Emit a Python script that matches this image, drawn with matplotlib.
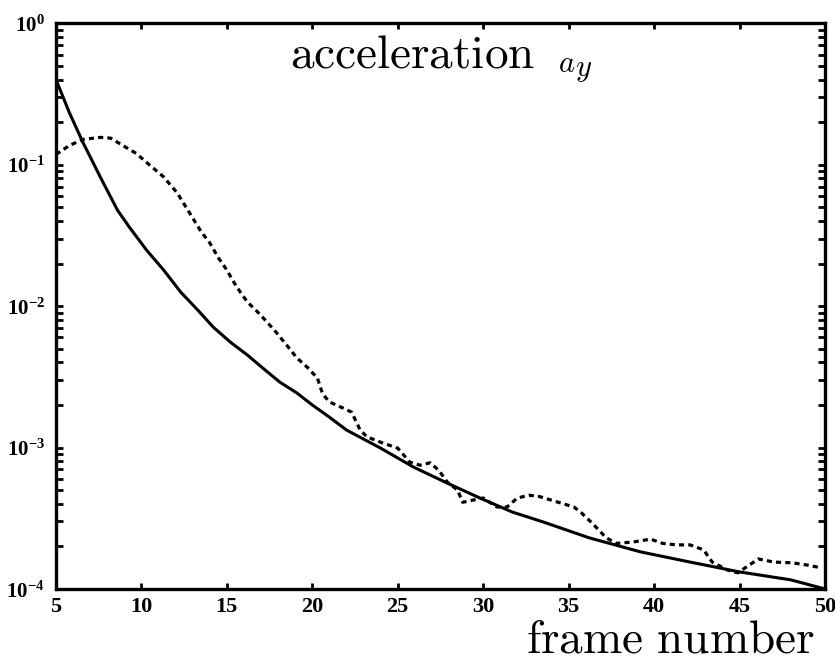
import matplotlib
matplotlib.use("Agg")
import matplotlib.pyplot as plt
from matplotlib.ticker import FixedLocator, LogLocator, NullFormatter

plt.rcParams['mathtext.fontset'] = 'custom'
plt.rcParams['mathtext.rm'] = 'Liberation Serif:bold'
plt.rcParams['mathtext.bf'] = 'Liberation Serif:bold'
plt.rcParams['mathtext.it'] = 'Liberation Serif:bold:italic'

# ---- data ----
solid_frame = [5.0, 5.8, 6.6, 7.6, 8.6, 9.3, 10.3, 11.3, 12.3, 13.3, 14.2, 15.2,
               16.2, 17.1, 18.1, 19.1, 20.0, 21.0, 22.0, 24.0, 25.9, 27.9, 29.8,
               31.7, 33.5, 36.2, 39.2, 42.1, 45.0, 48.0, 50.0]
solid_value = [0.40, 0.231, 0.142, 0.0816, 0.0477, 0.0361, 0.0249, 0.0180, 0.01256,
               0.00937, 0.00711, 0.00557, 0.00451, 0.00365, 0.0029, 0.00243, 0.0020,
               0.00164, 0.00133, 0.00099, 0.00073, 0.00056, 0.00044, 0.00035,
               0.000298, 0.00023, 0.000183, 0.000155, 0.000132, 0.000116, 0.0001]

dash_frame = [5.0, 5.8, 6.6, 7.6, 8.2, 8.9, 9.7, 10.5, 11.3, 12.1, 12.8, 13.5, 14.0,
              14.5, 15.0, 15.4, 15.8, 16.2, 16.8, 17.4, 17.9, 18.5, 19.1, 19.7, 20.3,
              20.6, 21.0, 21.8, 22.3, 22.8, 23.2, 24.0, 25.0, 25.7, 26.3, 26.9, 27.4,
              27.9, 28.5, 28.8, 29.4, 30.0, 30.8, 31.4, 32.0, 32.7, 33.3, 34.4, 35.3,
              35.7, 36.4, 37.2, 37.8, 38.8, 39.8, 40.5, 41.3, 42.1, 42.9, 43.4, 44.3,
              44.9, 45.4, 46.1, 47.0, 48.1, 48.9, 49.8]
dash_value = [0.118, 0.137, 0.151, 0.156, 0.154, 0.137, 0.120, 0.099, 0.082, 0.063,
              0.046, 0.0335, 0.028, 0.022, 0.018, 0.0148, 0.0125, 0.0107, 0.0091,
              0.0076, 0.0065, 0.0053, 0.0043, 0.0037, 0.0031, 0.0024, 0.0021, 0.0019,
              0.00178, 0.00133, 0.00119, 0.00109, 0.00099, 0.00079, 0.00075, 0.00078,
              0.00069, 0.00057, 0.00050, 0.00041, 0.000425, 0.00044, 0.00038, 0.00038,
              0.00044, 0.00046, 0.00045, 0.00041, 0.00038, 0.00035, 0.00029, 0.00023,
              0.00021, 0.000215, 0.000225, 0.00021, 0.000205, 0.000205, 0.000189,
              0.000155, 0.000136, 0.00013, 0.000143, 0.000163, 0.000155, 0.000153,
              0.000148, 0.000141]

x_ticks = [5, 10, 15, 20, 25, 30, 35, 40, 45, 50]
y_ticks = [1e-4, 1e-3, 1e-2, 1e-1, 1e0]
y_tick_labels = [r"$10^{-4}$", r"$10^{-3}$", r"$10^{-2}$", r"$10^{-1}$", r"$10^{0}$"]
title_text = r"$\mathrm{acceleration}$"
title_sym_a = r"$a$"
title_sym_y = r"$y$"
xlabel_text = r"$\mathrm{frame\ number}$"

# ---- figure ----
fig = plt.figure(figsize=(8.35, 6.64), dpi=100)
ax = fig.add_axes([0.067, 0.113, 0.921, 0.852])

ax.plot(solid_frame, solid_value, color='black', lw=2.2, solid_capstyle='butt')
ax.plot(dash_frame, dash_value, color='black', lw=2.3, dashes=(1.6, 1.3))

ax.set_yscale('log')
ax.set_xlim(5, 50)
ax.set_ylim(1e-4, 1e0)

ax.xaxis.set_major_locator(FixedLocator(x_ticks))
ax.set_xticklabels([str(t) for t in x_ticks])
ax.yaxis.set_major_locator(FixedLocator(y_ticks))
ax.set_yticklabels(y_tick_labels)
ax.yaxis.set_minor_locator(LogLocator(base=10, subs=range(2, 10), numticks=20))
ax.yaxis.set_minor_formatter(NullFormatter())

ax.tick_params(axis='x', which='major', direction='in', top=True, bottom=True,
               length=4, width=2, pad=6, labelsize=16)
ax.tick_params(axis='y', which='major', direction='in', left=True, right=True,
               length=5, width=2, pad=8, labelsize=15)
ax.tick_params(axis='y', which='minor', direction='in', left=True, right=True,
               length=5, width=2)
for lab in ax.get_xticklabels():
    lab.set_fontfamily('Liberation Serif')
    lab.set_fontweight('bold')

for s in ax.spines.values():
    s.set_linewidth(2.4)

fig.text(0.347, 0.898, title_text, fontsize=34, math_fontfamily='cm',
         ha='left', va='baseline')
fig.text(0.668, 0.892, title_sym_a, fontsize=22, math_fontfamily='cm',
         ha='left', va='baseline')
fig.text(0.689, 0.886, title_sym_y, fontsize=22, math_fontfamily='cm',
         ha='left', va='baseline')
fig.text(0.976, 0.017, xlabel_text, fontsize=34, math_fontfamily='cm',
         ha='right', va='baseline')

fig.savefig("out.png", dpi=100)
